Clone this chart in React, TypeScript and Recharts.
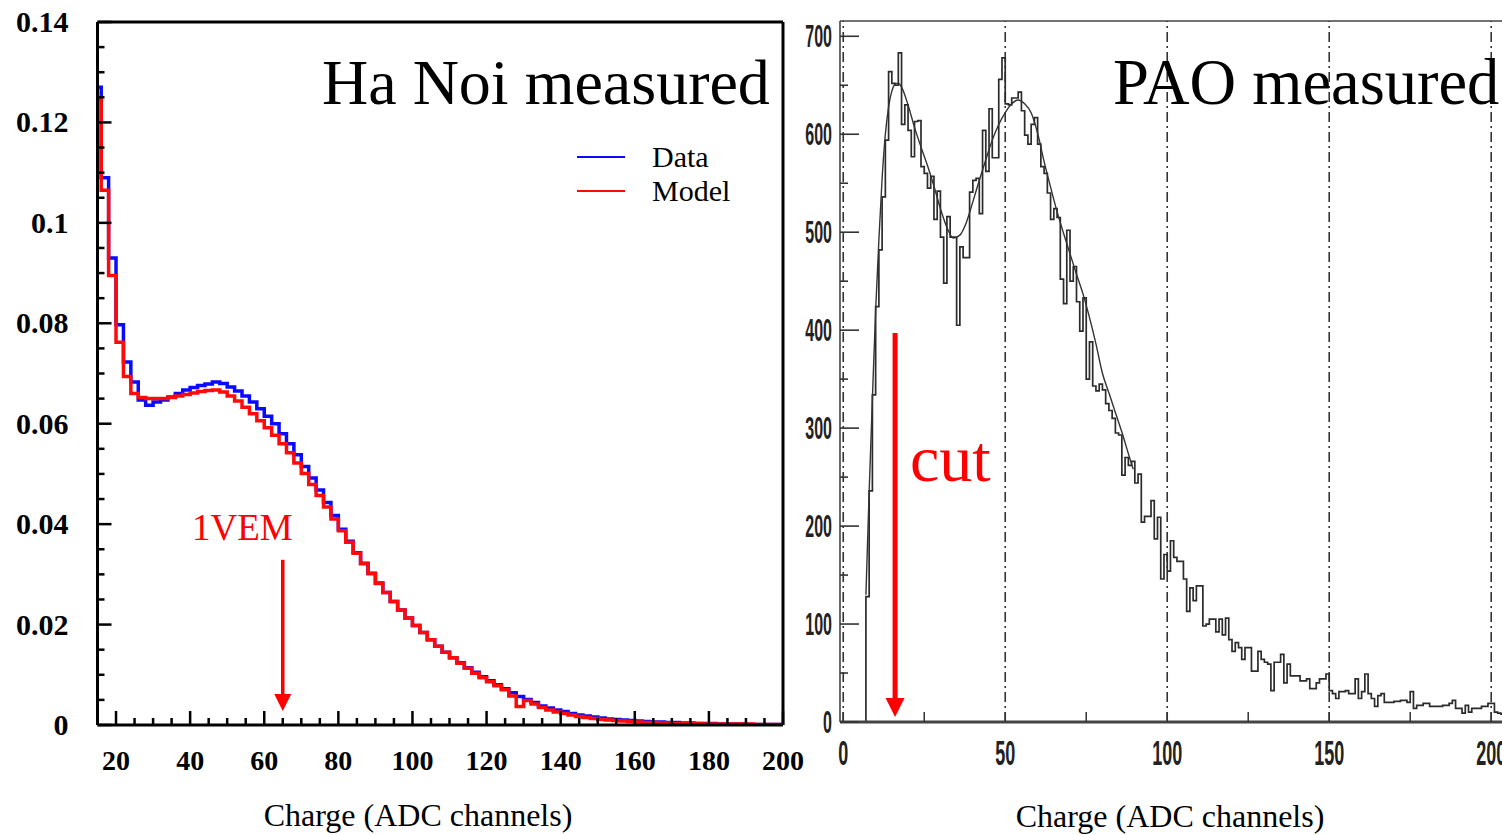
import React from "react";
import { ComposedChart, Line, XAxis, YAxis, ReferenceLine, Legend } from "recharts";

// Ha Noi measured: 2-channel bins starting at 14
const HN_BIN_START = 14;
const HN_BIN_WIDTH = 2;
const hnDataCounts = [
  0.127, 0.109, 0.093, 0.0797, 0.0723, 0.0683, 0.0647, 0.0637, 0.0643, 0.0647,
  0.0653, 0.066, 0.0667, 0.0672, 0.0676, 0.0679, 0.0683, 0.068, 0.0673, 0.0665,
  0.0655, 0.0643, 0.063, 0.0615, 0.06, 0.058, 0.056, 0.0538, 0.0515, 0.0492,
  0.0468, 0.0443, 0.0417, 0.039, 0.0366, 0.0343, 0.0322, 0.0302, 0.0283, 0.0264,
  0.0246, 0.0229, 0.0213, 0.0198, 0.0184, 0.017, 0.0157, 0.0145, 0.0134, 0.0124,
  0.0114, 0.0105, 0.0096, 0.0088, 0.008, 0.0072, 0.0064, 0.0057, 0.0051, 0.0045,
  0.0038, 0.0034, 0.003, 0.0027, 0.0023, 0.002, 0.0018, 0.0016, 0.0014, 0.0012,
  0.0011, 0.001, 0.0009, 0.0008, 0.0007, 0.0006, 0.0006, 0.0005, 0.0005, 0.0004,
  0.0004, 0.0003, 0.0003, 0.0003, 0.0002, 0.0002, 0.0002, 0.0002, 0.0001, 0.0001,
  0.0001, 0.0001, 0.0001,
];
const hnModelCounts = [
  0.1245, 0.1065, 0.0895, 0.0762, 0.0694, 0.066, 0.0652, 0.065, 0.065, 0.065,
  0.0652, 0.0655, 0.0658, 0.0661, 0.0664, 0.0666, 0.0667, 0.0663, 0.0655, 0.0645,
  0.0633, 0.062, 0.0606, 0.0592, 0.0577, 0.056, 0.0542, 0.0522, 0.0501, 0.0479,
  0.0457, 0.0434, 0.041, 0.0387, 0.0364, 0.0342, 0.0321, 0.0301, 0.0282, 0.0264,
  0.0246, 0.0229, 0.0213, 0.0198, 0.0184, 0.017, 0.0157, 0.0145, 0.0134, 0.0123,
  0.0113, 0.0103, 0.0094, 0.0086, 0.0078, 0.007, 0.0058, 0.0037, 0.0049, 0.0042,
  0.0035, 0.003, 0.0026, 0.0023, 0.002, 0.0017, 0.0015, 0.0013, 0.0011, 0.001,
  0.0009, 0.0008, 0.0007, 0.0006, 0.0005, 0.0005, 0.0004, 0.0004, 0.0003, 0.0003,
  0.0003, 0.0003, 0.0002, 0.0002, 0.0002, 0.0002, 0.0002, 0.0002, 0.0002, 0.0001,
  0.0001, 0.0001, 0.0001,
];
const hnXMajor = [20, 40, 60, 80, 100, 120, 140, 160, 180, 200];
const hnYMajor = [0, 0.02, 0.04, 0.06, 0.08, 0.1, 0.12, 0.14];
const VEM_CHARGE = 65;

// PAO measured: 1-channel bins starting at 7
const PAO_BIN_START = 7;
const paoCounts = [
  128, 236, 334, 424, 482, 536, 594, 664, 652, 650,
  683, 610, 630, 604, 577, 613, 614, 567, 560, 545,
  557, 513, 542, 495, 448, 516, 495, 495, 405, 485,
  474, 474, 541, 553, 555, 519, 604, 562, 626, 576,
  576, 656, 678, 631, 630, 637, 637, 643, 624, 599,
  590, 610, 617, 590, 567, 560, 540, 513, 524, 515,
  452, 427, 502, 450, 465, 429, 399, 433, 350, 388,
  343, 338, 345, 339, 325, 318, 310, 295, 293, 252,
  270, 262, 266, 244, 253, 204, 210, 210, 226, 187,
  209, 146, 171, 154, 185, 168, 164, 164, 146, 113,
  137, 124, 139, 139, 98, 100, 105, 105, 92, 105,
  89, 106, 84, 72, 81, 76, 64, 76, 76, 52,
  52, 72, 64, 61, 59, 32, 61, 61, 69, 40,
  59, 47, 47, 47, 42, 42, 44, 34, 34, 40,
  44, 44, 49, 32, 29, 24, 31, 31, 32, 29,
  29, 44, 24, 31, 49, 29, 24, 16, 27, 29,
  20, 20, 20, 21, 21, 22, 22, 20, 31, 14,
  17, 17, 19, 19, 16, 16, 16, 16, 17, 17,
  19, 22, 14, 14, 9, 17, 10, 14, 14, 14,
  16, 16, 19, 19, 10, 9, 8, 10,
];
const paoFitX = [7, 8, 9, 10, 11, 12, 13, 14, 15, 16, 17, 18, 20, 22, 24, 26, 28, 30, 32, 34, 36, 38, 40, 42, 44, 46, 48, 50, 52, 54, 56, 58, 60, 62, 64, 66, 68, 70, 72, 74, 76, 78, 80, 82, 84, 86, 88, 89.5];
const paoFitY = [130, 235, 330, 420, 492, 555, 600, 628, 644, 651, 652, 648, 630, 607, 587, 568, 547, 524, 505, 494, 497, 510, 531, 553, 574, 594, 610, 622, 631, 635, 631, 622, 601, 572, 546, 521, 499, 478, 457, 437, 413, 386, 356, 336, 316, 296, 274, 258];
const paoXMajor = [0, 50, 100, 150, 200];
const paoYMajor = [0, 100, 200, 300, 400, 500, 600, 700];
const CUT_CHARGE = 16;

const SERIF = "'Liberation Serif', 'Times New Roman', serif";
const SANS = "'Liberation Sans', Arial, sans-serif";

const hnRows = hnDataCounts.map((d, i) => ({
  x: HN_BIN_START + i * HN_BIN_WIDTH,
  data: d,
  model: hnModelCounts[i],
}));
hnRows.push({
  x: HN_BIN_START + hnDataCounts.length * HN_BIN_WIDTH,
  data: hnDataCounts[hnDataCounts.length - 1],
  model: hnModelCounts[hnModelCounts.length - 1],
});

const paoHist = [{ u: PAO_BIN_START, v: 0 }].concat(
  paoCounts.map((v, i) => ({ u: PAO_BIN_START + i, v }))
);
paoHist.push({ u: PAO_BIN_START + paoCounts.length, v: paoCounts[paoCounts.length - 1] });
const paoFit = paoFitX.map((u, i) => ({ u, v: paoFitY[i] }));

const between = (majors: number[], sub: number) => {
  const out: number[] = [];
  for (let i = 0; i < majors.length - 1; i++) {
    const step = (majors[i + 1] - majors[i]) / sub;
    for (let k = 0; k < sub; k++) out.push(+(majors[i] + k * step).toFixed(4));
  }
  out.push(majors[majors.length - 1]);
  return out;
};
const hnXTicks = [15].concat(between(hnXMajor, 4));
const hnYTicks = between(hnYMajor, 4);
const paoXTicks = between(paoXMajor, 2);
const paoYTicks = between(paoYMajor, 2);

const isIn = (list: number[], v: number) => list.some((m) => Math.abs(m - v) < 1e-6);

function HnXTick({ x, y, payload }: any) {
  const major = isIn(hnXMajor, payload.value);
  return (
    <g>
      <line x1={x} x2={x} y1={y} y2={y - (major ? 14 : 7)} stroke="#000" strokeWidth={2.5} />
      {major && (
        <text x={x} y={y + 45} textAnchor="middle" fontFamily={SERIF} fontWeight="bold" fontSize={28} fill="#000">
          {payload.value}
        </text>
      )}
    </g>
  );
}

function HnYTick({ x, y, payload }: any) {
  const major = isIn(hnYMajor, payload.value);
  return (
    <g>
      <line x1={x} x2={x + (major ? 14 : 7)} y1={y} y2={y} stroke="#000" strokeWidth={2.5} />
      {major && (
        <text x={x - 29} y={y + 10} textAnchor="end" fontFamily={SERIF} fontWeight="bold" fontSize={30} fill="#000">
          {String(payload.value)}
        </text>
      )}
    </g>
  );
}

function PaoXTick({ x, y, payload }: any) {
  const major = isIn(paoXMajor, payload.value);
  return (
    <g>
      <line x1={x} x2={x} y1={y} y2={y - 10} stroke="#333" strokeWidth={1.5} />
      {major && (
        <text
          transform={`translate(${x},${y + 43}) scale(0.5,1)`}
          textAnchor="middle"
          fontFamily={SANS}
          fontWeight="bold"
          fontSize={36}
          fill="#222"
        >
          {payload.value}
        </text>
      )}
    </g>
  );
}

function PaoYTick({ x, y, payload }: any) {
  const major = isIn(paoYMajor, payload.value);
  return (
    <g>
      <line x1={x} x2={x + (major ? 19 : 8)} y1={y} y2={y} stroke="#333" strokeWidth={1.6} />
      {major && (
        <text
          transform={`translate(${x - 8},${y + 11}) scale(0.5,1)`}
          textAnchor="end"
          fontFamily={SANS}
          fontWeight="bold"
          fontSize={32}
          fill="#222"
        >
          {payload.value}
        </text>
      )}
    </g>
  );
}

const arrow = (width: number, head: number, text: string, size: number, dx: number, dy: number, anchor: string) =>
  (props: any) => {
    const { x1, y1, x2, y2 } = props;
    return (
      <g>
        <line x1={x1} y1={y1} x2={x2} y2={y2 - head + 2} stroke="#ff0000" strokeWidth={width} />
        <polygon points={`${x2 - head / 2},${y2 - head} ${x2 + head / 2},${y2 - head} ${x2},${y2}`} fill="#ff0000" />
        <text x={x1 + dx} y={y1 + dy} textAnchor={anchor} fontFamily={SERIF} fontSize={size} fill="#ff0000">
          {text}
        </text>
      </g>
    );
  };

function HnLegend({ payload }: any) {
  return (
    <svg width={200} height={76}>
      {(payload || []).map((p: any, i: number) => (
        <g key={p.value}>
          <line x1={0} x2={48} y1={17 + i * 34} y2={17 + i * 34} stroke={p.color} strokeWidth={2} />
          <text x={75} y={27 + i * 34} fontFamily={SERIF} fontSize={30} fill="#000">
            {p.value}
          </text>
        </g>
      ))}
    </svg>
  );
}

export default function App() {
  return (
    <div style={{ position: "fixed", left: 0, top: 0, width: 1502, height: 835, overflow: "hidden", background: "#fff" }}>
      <div style={{ position: "absolute", left: 0, top: 0 }}>
        <ComposedChart width={815} height={835} data={hnRows} margin={{ top: 22, right: 32, bottom: 0, left: 0 }}>
          <XAxis
            dataKey="x"
            type="number"
            domain={[15, 200]}
            allowDataOverflow
            ticks={hnXTicks}
            interval={0}
            tick={<HnXTick />}
            tickLine={false}
            tickSize={0}
            tickMargin={0}
            height={110}
            axisLine={{ stroke: "#000", strokeWidth: 3 }}
          />
          <YAxis
            type="number"
            domain={[0, 0.14]}
            allowDataOverflow
            ticks={hnYTicks}
            interval={0}
            tick={<HnYTick />}
            tickLine={false}
            tickSize={0}
            tickMargin={0}
            width={97.5}
            axisLine={{ stroke: "#000", strokeWidth: 3 }}
          />
          <ReferenceLine x={200} stroke="#000" strokeWidth={3} />
          <ReferenceLine y={0.14} stroke="#000" strokeWidth={3} />
          <Line
            name="Data"
            dataKey="data"
            type="stepAfter"
            stroke="#0a0aff"
            strokeWidth={3.5}
            dot={false}
            isAnimationActive={false}
          />
          <Line
            name="Model"
            dataKey="model"
            type="stepAfter"
            stroke="#ff0a0a"
            strokeWidth={3.5}
            dot={false}
            isAnimationActive={false}
          />
          <ReferenceLine
            segment={[{ x: VEM_CHARGE, y: 0.0329 }, { x: VEM_CHARGE, y: 0.0028 }]}
            stroke="#ff0000"
            shape={arrow(3.5, 17, "1VEM", 37, 10, -20, "end")}
          />
          <Legend
            layout="horizontal"
            verticalAlign="middle"
            align="center"
            content={<HnLegend />}
            wrapperStyle={{ position: "absolute", left: 577, top: 140, width: 200, height: 76 }}
          />
        </ComposedChart>
      </div>

      <div style={{ position: "absolute", left: 790, top: 0 }}>
        <ComposedChart width={730} height={835} margin={{ top: 21, right: 12.6, bottom: 0, left: 0 }}>
          <XAxis
            dataKey="u"
            type="number"
            domain={[-1, 205]}
            allowDataOverflow
            ticks={paoXTicks}
            interval={0}
            tick={<PaoXTick />}
            tickLine={false}
            tickSize={0}
            tickMargin={0}
            height={113}
            axisLine={{ stroke: "#444", strokeWidth: 3 }}
          />
          <YAxis
            type="number"
            domain={[0, 715.6]}
            allowDataOverflow
            ticks={paoYTicks}
            interval={0}
            tick={<PaoYTick />}
            tickLine={false}
            tickSize={0}
            tickMargin={0}
            width={50}
            axisLine={{ stroke: "#444", strokeWidth: 1.6 }}
          />
          <ReferenceLine y={715.6} stroke="#444" strokeWidth={1.6} />
          {paoXMajor.map((g) => (
            <ReferenceLine key={g} x={g} stroke="#333" strokeWidth={1.6} strokeDasharray="10 4 2 4" />
          ))}
          <Line
            data={paoHist}
            dataKey="v"
            type="stepAfter"
            stroke="#2b2b2b"
            strokeWidth={1.7}
            dot={false}
            isAnimationActive={false}
          />
          <Line
            data={paoFit}
            dataKey="v"
            type="monotone"
            stroke="#333"
            strokeWidth={1.4}
            dot={false}
            isAnimationActive={false}
          />
          <ReferenceLine
            segment={[{ x: CUT_CHARGE, y: 397 }, { x: CUT_CHARGE, y: 5 }]}
            stroke="#ff0000"
            shape={arrow(5, 19, "cut", 66, 15, 148, "start")}
          />
        </ComposedChart>
      </div>

      <svg width={1502} height={835} style={{ position: "absolute", left: 0, top: 0, pointerEvents: "none" }}>
        <text x={322} y={104} fontFamily={SERIF} fontSize={64} fill="#000">Ha Noi measured</text>
        <text x={1113} y={104} fontFamily={SERIF} fontSize={64.5} fill="#000">PAO measured</text>
        <text x={418} y={826} textAnchor="middle" fontFamily={SERIF} fontSize={32} fill="#000">Charge (ADC channels)</text>
        <text x={1170} y={827} textAnchor="middle" fontFamily={SERIF} fontSize={32} fill="#000">Charge (ADC channels)</text>
      </svg>
    </div>
  );
}
